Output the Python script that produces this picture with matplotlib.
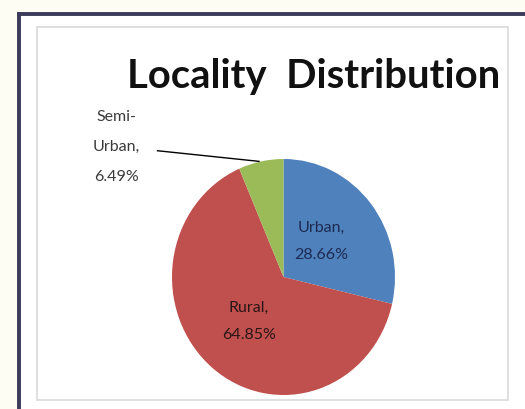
import matplotlib
matplotlib.use("Agg")
import matplotlib.pyplot as plt
from matplotlib.lines import Line2D
from matplotlib.patches import Rectangle

plt.rcParams["font.family"] = "Lato"

categories = ["Urban", "Rural", "Semi-Urban"]
shares = [28.66, 64.85, 6.49]
colors = ["#4f81bd", "#c0504d", "#9bbb59"]
title = "Locality  Distribution"

W, H = 525, 410
fig = plt.figure(figsize=(W / 100, H / 100), dpi=100)
fig.patch.set_facecolor("#fdfdf3")

def px(x, y):
    # pixel coords (top-left origin) -> figure fraction
    return x / W, 1 - y / H

# chart area (white) and borders
x0, y0 = px(19, 15)
fig.patches.append(Rectangle((x0, 0), 1 - x0, y0, transform=fig.transFigure,
                             facecolor="white", edgecolor="none", zorder=-3))
fig.lines.append(Line2D([x0, x0], [0, y0], transform=fig.transFigure,
                        color="#3c3c5c", lw=2.8, zorder=-2))
fig.lines.append(Line2D([x0, 1], [y0, y0], transform=fig.transFigure,
                        color="#3c3c5c", lw=2.8, zorder=-2))
ix0, iy0 = px(37, 28)
ix1, iy1 = px(508, 401)
fig.patches.append(Rectangle((ix0, iy1), ix1 - ix0, iy0 - iy1, transform=fig.transFigure,
                             facecolor="white", edgecolor="#d9d9d9", lw=1.2, zorder=-1))

tx, ty = px(314, 88)
fig.text(tx, ty, title, ha="center", va="baseline", fontsize=28.8, fontweight="bold",
         color="#111111")

# pie
l, t = px(172, 160)
r, b = px(395, 396)
ax = fig.add_axes([l, b, r - l, t - b])
ax.set_zorder(5)
ax.pie(shares, colors=colors, startangle=90, counterclock=False,
       wedgeprops=dict(linewidth=0))
ax.set_aspect("auto")
ax.set_xlim(-1, 1)
ax.set_ylim(-1, 1)

lab = dict(ha="center", va="center", fontsize=11.5)
ax.text(0.34, 0.31, "Urban,\n28.66%", color="#1c2a52", linespacing=2.2, **lab)
ax.text(-0.31, -0.37, "Rural,\n64.85%", color="#2a1616", linespacing=2.2, **lab)
ax.text(-1.50, 1.11, "Semi-\nUrban,\n6.49%", color="#3a3a3a", linespacing=2.45, **lab)
ax.plot([-1.13, -0.22], [1.07, 0.98], color="black", lw=1.0, clip_on=False)

fig.savefig("out.png", dpi=100, facecolor=fig.get_facecolor())
